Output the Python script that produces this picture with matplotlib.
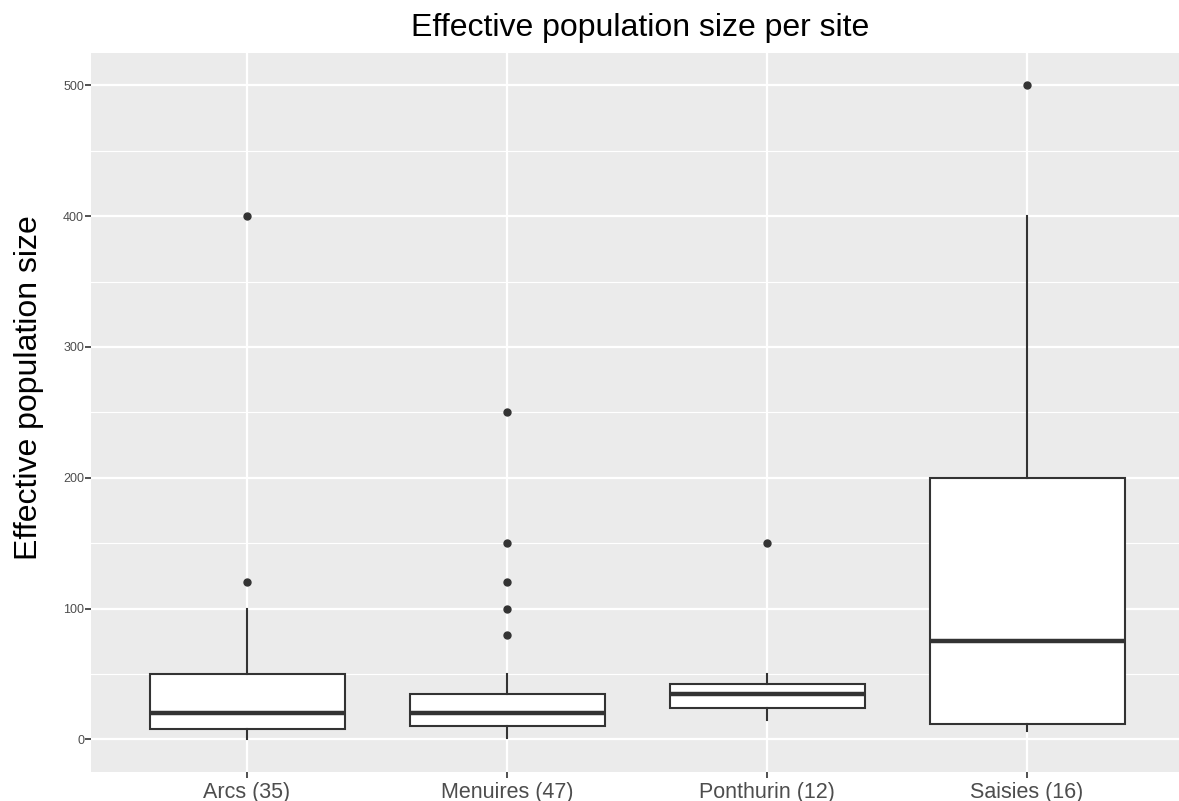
import matplotlib
matplotlib.use("Agg")
import matplotlib.pyplot as plt

# ---- data ----
sites = ["Arcs (35)", "Menuires (47)", "Ponthurin (12)", "Saisies (16)"]
q1 = [8, 10, 24, 11.5]
median = [20, 20, 35, 75]
q3 = [50, 35, 42.5, 200]
whisker_low = [0, 1, 15, 6]
whisker_high = [100, 50, 50, 400]
outliers = [[120, 400], [80, 100, 120, 150, 250], [150], [500]]
y_ticks = [0, 100, 200, 300, 400, 500]
y_minor = [50, 150, 250, 350, 450]

plt.rcParams["font.family"] = ["Liberation Sans", "DejaVu Sans"]

W, H = 1179, 801
fig = plt.figure(figsize=(W / 100, H / 100), dpi=100)
left_px, right_px, top_px, bottom_px = 91, 1179, 52.7, 772
ax = fig.add_axes([left_px / W, (H - bottom_px) / H,
                   (right_px - left_px) / W, (bottom_px - top_px) / H])

ax.set_facecolor("#EBEBEB")
for s in ax.spines.values():
    s.set_visible(False)

stats = []
for i in range(len(sites)):
    stats.append(dict(label=sites[i], q1=q1[i], med=median[i], q3=q3[i],
                      whislo=whisker_low[i], whishi=whisker_high[i],
                      fliers=outliers[i]))

positions = list(range(1, len(sites) + 1))
edge = "#333333"
ax.bxp(stats, positions=positions, widths=0.75, patch_artist=True,
       showcaps=False, zorder=3,
       boxprops=dict(facecolor="white", edgecolor=edge, linewidth=1.5),
       medianprops=dict(color=edge, linewidth=3.2),
       whiskerprops=dict(color=edge, linewidth=1.5),
       flierprops=dict(marker="o", markerfacecolor=edge, markeredgecolor=edge,
                       markersize=5, linestyle="none"))

# grid
ax.set_yticks(y_ticks)
ax.set_yticks(y_minor, minor=True)
ax.set_xticks(positions)
ax.set_xticklabels(sites)
ax.grid(True, which="major", axis="both", color="white", linewidth=1.6, zorder=0)
ax.grid(True, which="minor", axis="y", color="white", linewidth=0.8, zorder=0)
ax.set_axisbelow(True)

xmin = 0.4
ax.set_xlim(xmin, xmin + (right_px - left_px) / 260.0)
ax.set_ylim(-25, 525)

ax.tick_params(axis="y", which="major", labelsize=9, labelcolor="#4D4D4D",
               color="#333333", length=4, width=1.2, pad=1)
ax.tick_params(axis="y", which="minor", length=0)
ax.tick_params(axis="x", which="major", labelsize=15.5, labelcolor="#4D4D4D",
               color="#333333", length=4, width=1.2, pad=3)

ax.set_ylabel("Effective population size", fontsize=23, color="black")
ax.yaxis.set_label_coords(-0.043, 0.534)

fig.text(640 / W, (H - 36) / H, "Effective population size per site",
         ha="center", va="baseline", fontsize=23, color="black")

fig.savefig("out.png", dpi=100)
